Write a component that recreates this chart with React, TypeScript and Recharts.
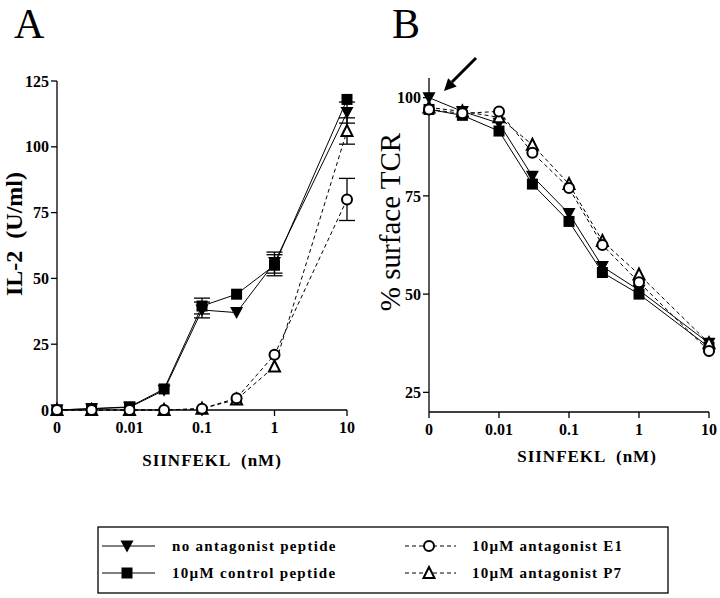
import React from "react";
import { LineChart, Line, XAxis, YAxis, ErrorBar } from "recharts";

// ---- data ----
const concentrations = [0, 0.003, 0.01, 0.03, 0.1, 0.3, 1, 10]; // nM SIINFEKL
const xTickValues = [0, 0.01, 0.1, 1, 10];
const xTickLabels = ["0", "0.01", "0.1", "1", "10"];

// Panel A: IL-2 (U/ml)
const il2NoAntagonist = [0, 0.5, 1, 7.5, 38, 37, 56, 113];
const il2NoAntagonistErr = [null, null, null, null, 3, null, 4, 4];
const il2Control = [0, 0.5, 1.2, 8, 39.5, 44, 55, 118];
const il2ControlErr = [null, null, null, null, 3, null, 4, null];
const il2E1 = [0, 0, 0, 0, 0.5, 4.5, 21, 80];
const il2E1Err = [null, null, null, null, null, null, null, 8];
const il2P7 = [0, 0, 0, 0, 0.5, 4, 16.5, 106];
const il2P7Err = [null, null, null, null, null, null, null, 5];
const il2Ticks = [0, 25, 50, 75, 100, 125];

// Panel B: % surface TCR
const tcrNoAntagonist = [100, 96.5, 93.5, 80, 70.5, 57, 51, 37.5];
const tcrControl = [97, 95.5, 91.5, 78, 68.5, 55.5, 50, 36.5];
const tcrE1 = [97, 96, 96.5, 86, 77, 62.5, 53, 35.5];
const tcrP7 = [97.5, 96.5, 95, 88, 78, 63.5, 55, 37.5];
const tcrTicks = [25, 50, 75, 100];

const seriesNames = [
  "no antagonist peptide",
  "10\u00b5M control peptide",
  "10\u00b5M antagonist E1",
  "10\u00b5M antagonist P7",
];

// log position with "0" placed one decade below 0.01
const pos = (c: number) => (c === 0 ? -1 : Math.log10(c) + 2);
const build = (vals: number[], errs?: (number | null)[]) =>
  concentrations.map((c, i) => ({ p: pos(c), v: vals[i], e: errs ? errs[i] : null }));

const FONT = "'Liberation Serif', 'Times New Roman', serif";

// ---- markers ----
const FilledSquare = (props: any) => {
  const { cx, cy } = props;
  if (cx == null || cy == null) return null;
  return <rect x={cx - 5.5} y={cy - 5.5} width={11} height={11} fill="#000" />;
};
const FilledDown = (props: any) => {
  const { cx, cy } = props;
  if (cx == null || cy == null) return null;
  return <polygon points={`${cx - 6.5},${cy - 5.5} ${cx + 6.5},${cy - 5.5} ${cx},${cy + 6.5}`} fill="#000" />;
};
const OpenCircle = (props: any) => {
  const { cx, cy } = props;
  if (cx == null || cy == null) return null;
  return <circle cx={cx} cy={cy} r={5} fill="#fff" stroke="#000" strokeWidth={2} />;
};
const OpenUp = (props: any) => {
  const { cx, cy } = props;
  if (cx == null || cy == null) return null;
  return (
    <polygon
      points={`${cx},${cy - 6} ${cx - 5.5},${cy + 5} ${cx + 5.5},${cy + 5}`}
      fill="#fff"
      stroke="#000"
      strokeWidth={2}
      strokeLinejoin="miter"
    />
  );
};

const tickStyle = { fill: "#000", fontSize: 16, fontWeight: "bold", fontFamily: FONT };
const xTickStyle = { ...tickStyle, dy: 4 };
const axisStroke = { stroke: "#000", strokeWidth: 1.3 };

const xTicks = xTickValues.map(pos);
const xFmt = (v: number) => {
  const i = xTicks.findIndex((t) => Math.abs(t - v) < 1e-9);
  return i >= 0 ? xTickLabels[i] : "";
};

const renderLine = (
  key: string,
  data: any[],
  dashed: boolean,
  Dot: any,
  hasErr: boolean,
  name: string
) => (
  <Line
    key={key}
    name={name}
    data={data}
    dataKey="v"
    type="linear"
    stroke="#000"
    strokeWidth={1}
    strokeDasharray={dashed ? "4 3" : undefined}
    dot={(p: any) => <Dot key={`${key}-${p.index}`} {...p} />}
    activeDot={false}
    isAnimationActive={false}
  >
    {hasErr ? <ErrorBar dataKey="e" direction="y" width={8} stroke="#000" strokeWidth={1.3} /> : null}
  </Line>
);

export default function App() {
  return (
    <div style={{ position: "absolute", left: 0, top: 0, width: 720, height: 598, background: "#fff", overflow: "hidden" }}>
      {/* Panel A */}
      <div style={{ position: "absolute", left: 0, top: 0 }}>
        <LineChart width={360} height={470} margin={{ top: 81, right: 13, bottom: 30, left: 12 }}>
          <XAxis
            type="number"
            dataKey="p"
            domain={[-1, 3]}
            ticks={xTicks}
            tickFormatter={xFmt}
            tick={xTickStyle}
            tickSize={6}
            tickLine={axisStroke}
            axisLine={axisStroke}
            height={30}
            allowDuplicatedCategory={false}
          />
          <YAxis
            type="number"
            domain={[0, 125]}
            ticks={il2Ticks}
            tick={tickStyle}
            tickSize={6}
            tickLine={axisStroke}
            axisLine={axisStroke}
            width={45}
          />
          {renderLine("a1", build(il2NoAntagonist, il2NoAntagonistErr), false, FilledDown, true, seriesNames[0])}
          {renderLine("a2", build(il2Control, il2ControlErr), false, FilledSquare, true, seriesNames[1])}
          {renderLine("a4", build(il2P7, il2P7Err), true, OpenUp, true, seriesNames[3])}
          {renderLine("a3", build(il2E1, il2E1Err), true, OpenCircle, true, seriesNames[2])}
        </LineChart>
      </div>

      {/* Panel B */}
      <div style={{ position: "absolute", left: 360, top: 0 }}>
        <LineChart width={360} height={470} margin={{ top: 78, right: 11, bottom: 28, left: 24 }}>
          <XAxis
            type="number"
            dataKey="p"
            domain={[-1, 3]}
            ticks={xTicks}
            tickFormatter={xFmt}
            tick={xTickStyle}
            tickSize={6}
            tickLine={axisStroke}
            axisLine={axisStroke}
            height={30}
            allowDuplicatedCategory={false}
          />
          <YAxis
            type="number"
            domain={[20, 105]}
            ticks={tcrTicks}
            tick={tickStyle}
            tickSize={6}
            tickLine={axisStroke}
            axisLine={axisStroke}
            width={45}
          />
          {renderLine("b1", build(tcrNoAntagonist), false, FilledDown, false, seriesNames[0])}
          {renderLine("b2", build(tcrControl), false, FilledSquare, false, seriesNames[1])}
          {renderLine("b4", build(tcrP7), true, OpenUp, false, seriesNames[3])}
          {renderLine("b3", build(tcrE1), true, OpenCircle, false, seriesNames[2])}
        </LineChart>
      </div>

      {/* Text, arrow and legend overlay */}
      <svg width={720} height={598} style={{ position: "absolute", left: 0, top: 0, pointerEvents: "none" }} fontFamily={FONT}>
        <text x={14} y={38} fontSize={42} fill="#000">A</text>
        <text x={392} y={38} fontSize={42} fill="#000">B</text>

        <text transform="translate(14,234) rotate(-90)" textAnchor="middle" dominantBaseline="central" fontSize={24} fontWeight="bold" fill="#000" xmlSpace="preserve">
          {"IL-2  (U/ml)"}
        </text>
        <text transform="translate(390,222) rotate(-90)" textAnchor="middle" dominantBaseline="central" fontSize={29} fill="#000">
          % surface TCR
        </text>

        <text x={212} y={466} textAnchor="middle" fontSize={17} fontWeight="bold" fill="#000" letterSpacing={1} xmlSpace="preserve">
          {"SIINFEKL  (nM)"}
        </text>
        <text x={587} y={462} textAnchor="middle" fontSize={17} fontWeight="bold" fill="#000" letterSpacing={1} xmlSpace="preserve">
          {"SIINFEKL  (nM)"}
        </text>

        {/* arrow */}
        <line x1={476} y1={58} x2={452} y2={82} stroke="#000" strokeWidth={3} />
        <polygon points="444,91 456.7,86.6 448.1,78.2" fill="#000" />

        {/* legend */}
        <rect x={98} y={527} width={570} height={66} fill="none" stroke="#000" strokeWidth={1.3} />
        <line x1={102} y1={546} x2={155} y2={546} stroke="#000" strokeWidth={1} />
        <FilledDown cx={127} cy={546} />
        <line x1={102} y1={573} x2={155} y2={573} stroke="#000" strokeWidth={1} />
        <FilledSquare cx={127} cy={573} />
        <text x={172} y={551} fontSize={15} fontWeight="bold" letterSpacing={1.3} fill="#000">{seriesNames[0]}</text>
        <text x={172} y={578} fontSize={15} fontWeight="bold" letterSpacing={1.3} fill="#000">{seriesNames[1]}</text>

        <line x1={405} y1={546} x2={456} y2={546} stroke="#000" strokeWidth={1} strokeDasharray="4 3" />
        <OpenCircle cx={429} cy={546} />
        <line x1={405} y1={573} x2={456} y2={573} stroke="#000" strokeWidth={1} strokeDasharray="4 3" />
        <OpenUp cx={429} cy={573} />
        <text x={472} y={551} fontSize={15} fontWeight="bold" letterSpacing={1.2} fill="#000">{seriesNames[2]}</text>
        <text x={472} y={578} fontSize={15} fontWeight="bold" letterSpacing={1.2} fill="#000">{seriesNames[3]}</text>
      </svg>
    </div>
  );
}
